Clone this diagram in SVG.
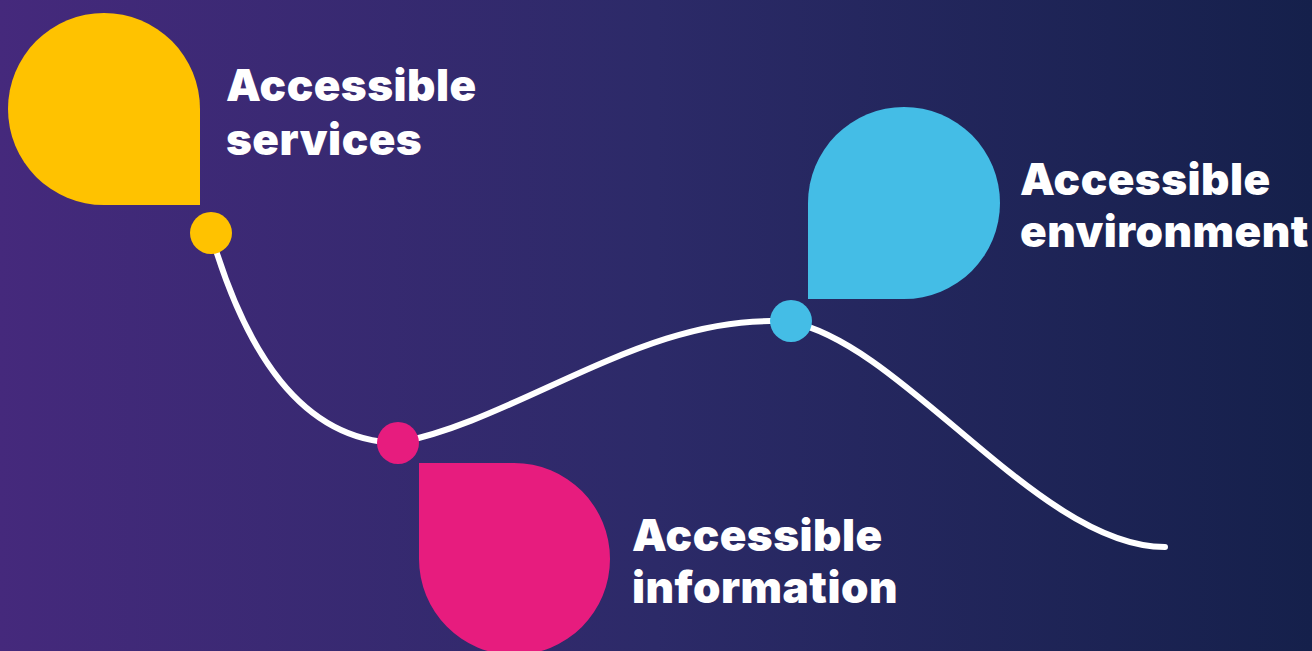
<svg xmlns="http://www.w3.org/2000/svg" width="1312" height="651" viewBox="0 0 1312 651">
<defs>
<linearGradient id="bg" x1="0" y1="0" x2="1" y2="0">
<stop offset="0" stop-color="#45297c"/>
<stop offset="0.5" stop-color="#2c2a68"/>
<stop offset="1" stop-color="#15204b"/>
</linearGradient>
<style>
.lbl{font-family:Inter,"Liberation Sans",sans-serif;font-weight:900;font-size:44px;letter-spacing:0.5px;fill:#ffffff}
.curve{fill:none;stroke:#ffffff;stroke-width:6;stroke-linecap:round}
.y{fill:#FFC200}.p{fill:#E71C7E}.b{fill:#44BDE6}
</style>
</defs>
<rect width="1312" height="651" fill="url(#bg)"/>
<g id="connectors">
<path class="curve" d="M211,234 C245,350 300,440 397,443 C520,420 650,310 791,322 C905,345 1040,547 1165,547"/>
</g>
<g id="node-services">
<path class="y" d="M200,205 H104 A96,96 0 0 1 8,109 A96,96 0 0 1 104,13 A96,96 0 0 1 200,109 Z"/>
<circle class="y" cx="211" cy="233" r="21"/>
<text class="lbl" x="226" y="101">Accessible</text>
<text class="lbl" x="226" y="155">services</text>
</g>
<g id="node-information">
<path class="p" d="M419,463 H514 A96,96 0 0 1 610,559 A96,96 0 0 1 514,655 A96,96 0 0 1 419,559 Z"/>
<circle class="p" cx="398" cy="443" r="21"/>
<text class="lbl" x="632" y="551">Accessible</text>
<text class="lbl" x="632" y="603">information</text>
</g>
<g id="node-environment">
<path class="b" d="M808,299 V203 A96,96 0 0 1 904,107 A96,96 0 0 1 1000,203 A96,96 0 0 1 904,299 Z"/>
<circle class="b" cx="791" cy="321" r="21"/>
<text class="lbl" x="1020" y="195">Accessible</text>
<text class="lbl" x="1020" y="247">environment</text>
</g>
</svg>
